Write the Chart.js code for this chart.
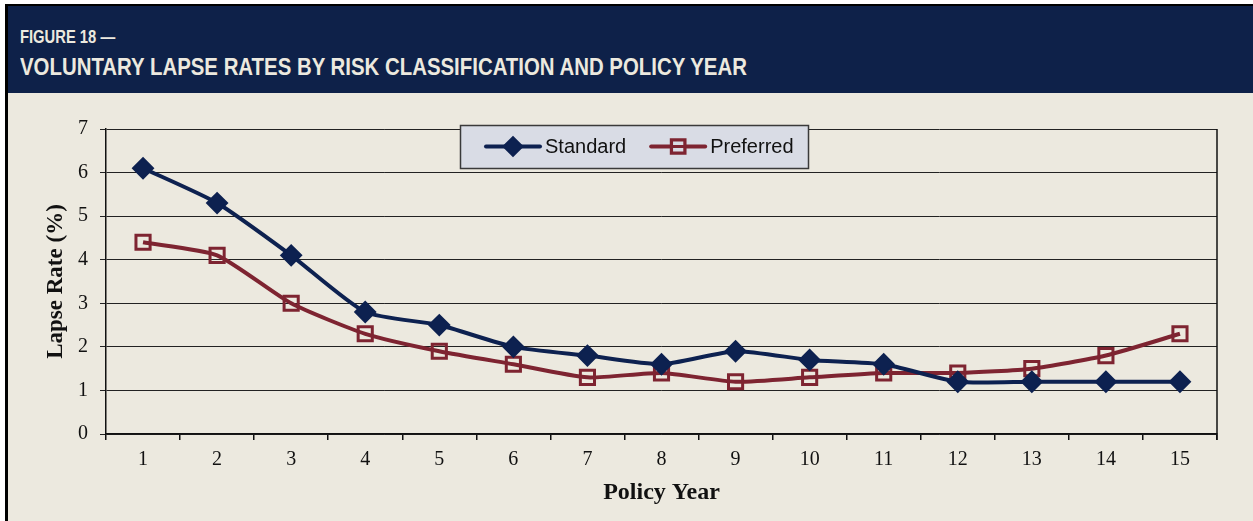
<!DOCTYPE html>
<html>
<head>
<meta charset="utf-8">
<script src="https://cdn.jsdelivr.net/npm/chart.js@4.4.1/dist/chart.umd.min.js"></script>
<style>
  html, body { margin: 0; padding: 0; background: #fff; }
  #frame {
    position: absolute; left: 5px; top: 4px; width: 1245px; height: 515px;
    border-left: 3px solid #000; border-top: 2px solid #000;
    background: #ECE9DF; overflow: hidden;
  }
  #head {
    position: absolute; left: 0; top: 0; width: 100%; height: 87px;
    background: #0E2149; color: #ECE9DF;
    font-family: "Liberation Sans", Arial, sans-serif;
    font-weight: bold; white-space: nowrap;
  }
  #fig { position: absolute; left: 12px; top: 21px; font-size: 18px; transform: scaleX(0.82); transform-origin: left; }
  #title { position: absolute; left: 12px; top: 47px; font-size: 24px; transform: scaleX(0.85); transform-origin: left; }
  #wrap { position: absolute; left: 0; top: 87px; width: 1245px; height: 428px; }
</style>
</head>
<body>
<div id="frame">
  <div id="head">
    <div id="fig">FIGURE 18 —</div>
    <div id="title">VOLUNTARY LAPSE RATES BY RISK CLASSIFICATION AND POLICY YEAR</div>
  </div>
  <div id="wrap"><canvas id="chart"></canvas></div>
</div>
<script>
const policyYears = ['1', '2', '3', '4', '5', '6', '7', '8', '9', '10', '11', '12', '13', '14', '15']
const standardRates = [6.1, 5.3, 4.1, 2.8, 2.5, 2.0, 1.8, 1.6, 1.9, 1.7, 1.6, 1.2, 1.2, 1.2, 1.2]
const preferredRates = [4.4, 4.1, 3.0, 2.3, 1.9, 1.6, 1.3, 1.4, 1.2, 1.3, 1.4, 1.4, 1.5, 1.8, 2.3]

const navy = '#0D2150'
const maroon = '#7E2431'
const serif = '"Liberation Serif", "Times New Roman", serif'

// legend box sits over the top of the plot, like the Excel original
const boxLegend = {
  id: 'boxLegend',
  afterDraw(chart) {
    const { ctx, chartArea } = chart
    const x0 = chartArea.left + 354, y0 = chartArea.top - 4
    const w = 348, h = 43
    ctx.save()
    ctx.fillStyle = '#D9DCE5'
    ctx.strokeStyle = '#3A3A3A'
    ctx.lineWidth = 1.5
    ctx.fillRect(x0, y0, w, h)
    ctx.strokeRect(x0 + 0.5, y0 + 0.5, w, h)

    // right plot border
    ctx.strokeStyle = '#111'
    ctx.lineWidth = 1.5
    ctx.beginPath()
    ctx.moveTo(chartArea.right, chartArea.top)
    ctx.lineTo(chartArea.right, chartArea.bottom + 6)
    ctx.stroke()

    ctx.font = '20px "Liberation Sans", Arial, sans-serif'
    ctx.textBaseline = 'middle'
    const cy = y0 + h / 2
    let x = x0 + 26
    chart.data.datasets.forEach(ds => {
      const diamond = ds.pointStyle === 'rectRot'
      ctx.strokeStyle = ds.borderColor
      ctx.lineWidth = 4
      ctx.lineCap = 'round'
      ctx.beginPath()
      ctx.moveTo(x, cy)
      ctx.lineTo(x + 54, cy)
      ctx.stroke()
      ctx.lineCap = 'butt'
      Chart.helpers.drawPoint(ctx, {
        pointStyle: ds.pointStyle,
        radius: diamond ? 8 : 9,
        borderWidth: ds.pointBorderWidth,
      }, x + 27, cy)
      ctx.fillStyle = diamond ? ds.borderColor : '#D9DCE5'
      ctx.strokeStyle = ds.borderColor
      ctx.lineWidth = diamond ? 1 : 2.5
      ctx.fill()
      ctx.stroke()
      if (!diamond) {
        ctx.lineWidth = 3
        ctx.beginPath()
        ctx.moveTo(x + 21, cy)
        ctx.lineTo(x + 33, cy)
        ctx.stroke()
      }
      ctx.fillStyle = '#111'
      ctx.textAlign = 'left'
      ctx.fillText(ds.label, x + 59, cy + 1)
      x += 59 + ctx.measureText(ds.label).width + 25
    })
    ctx.restore()
  },
}

new Chart(document.getElementById('chart'), {
  type: 'line',
  data: {
    labels: policyYears,
    datasets: [
      {
        label: 'Standard',
        data: standardRates,
        borderColor: navy,
        backgroundColor: navy,
        pointBackgroundColor: navy,
        pointBorderColor: navy,
        pointStyle: 'rectRot',
        pointRadius: 10,
        pointBorderWidth: 2,
        borderWidth: 4,
        tension: 0.2,
      },
      {
        label: 'Preferred',
        data: preferredRates,
        borderColor: maroon,
        backgroundColor: maroon,
        pointBackgroundColor: 'rgba(0,0,0,0)',
        pointBorderColor: maroon,
        pointStyle: 'rect',
        pointRadius: 10,
        pointBorderWidth: 3,
        borderWidth: 4,
        tension: 0.2,
      },
    ],
  },
  options: {
    responsive: true,
    maintainAspectRatio: false,
    animation: false,
    layout: { padding: { left: 22, right: 36, top: 36, bottom: 0 } },
    plugins: {
      legend: { display: false },
      tooltip: { enabled: false },
    },
    scales: {
      x: {
        offset: true,
        grid: { display: true, offset: true, drawOnChartArea: false, color: '#111', tickLength: 6, lineWidth: 1.5 },
        border: { color: '#111', width: 1.5 },
        ticks: { color: '#111', font: { family: serif, size: 20 }, padding: 8, maxRotation: 0 },
        title: { display: true, text: 'Policy Year', color: '#111', font: { family: serif, size: 24, weight: 'bold' }, padding: { top: 4, bottom: 14 } },
        afterFit: s => { s.height = 87 },
      },
      y: {
        min: 0,
        max: 7,
        ticks: { stepSize: 1, color: '#111', font: { family: serif, size: 20 }, padding: 12 },
        grid: { color: '#222', lineWidth: 1, tickLength: 6 },
        border: { color: '#111', width: 1.5 },
        title: { display: true, text: 'Lapse Rate (%)', color: '#111', font: { family: serif, size: 23, weight: 'bold' }, padding: { top: 12, bottom: 4 } },
        afterFit: s => { s.width = 76 },
      },
    },
  },
  plugins: [boxLegend],
})
</script>
</body>
</html>
